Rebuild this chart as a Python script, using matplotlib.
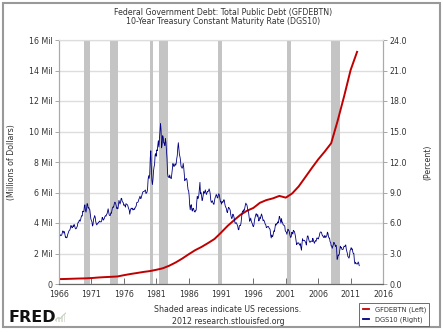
import matplotlib
matplotlib.use("Agg")
import matplotlib.pyplot as plt
import numpy as np
from matplotlib.lines import Line2D
from matplotlib.patches import Rectangle

# Total public debt, millions of dollars (start of 1966, then each year end)
debt_dates = [1966.0] + [y + 1.0 for y in range(1966, 2012)]
debt_millions = [
    320999, 329319, 344663, 358029, 368226, 389158, 424131, 449298, 469898,
    492665, 576649, 653544, 718943, 789207, 845116, 930210, 1028729, 1197073,
    1410702, 1663012, 1945942, 2214834, 2431715, 2684392, 2952994, 3364820,
    3801698, 4177009, 4535687, 4800150, 4988665, 5323172, 5502388, 5614217,
    5776091, 5662216, 5943439, 6405707, 6997964, 7596144, 8170424, 8680224,
    9229172, 10699805, 12311350, 14025215, 15222940,
]

# 10-year treasury rate, percent, monthly from Jan 1966
dgs10_start = 1966
dgs10_pct = [
    4.61, 4.83, 4.87, 4.75, 4.78, 4.81, 5.02, 5.22, 5.18, 5.01, 5.16, 4.84,
    4.58, 4.63, 4.54, 4.59, 4.85, 5.02, 5.16, 5.28, 5.30, 5.48, 5.75, 5.70,
    5.53, 5.56, 5.74, 5.64, 5.87, 5.72, 5.50, 5.42, 5.46, 5.58, 5.70, 6.03,
    6.04, 6.19, 6.30, 6.17, 6.32, 6.57, 6.72, 6.69, 7.16, 7.10, 7.14, 7.65,
    7.79, 7.24, 7.07, 7.39, 7.91, 7.84, 7.46, 7.53, 7.39, 7.33, 6.84, 6.39,
    6.24, 6.11, 5.70, 5.83, 6.39, 6.52, 6.73, 6.58, 6.14, 5.93, 5.81, 5.93,
    5.95, 6.08, 6.07, 6.19, 6.13, 6.11, 6.11, 6.21, 6.55, 6.48, 6.28, 6.36,
    6.46, 6.64, 6.71, 6.67, 6.85, 6.90, 7.13, 7.40, 7.09, 6.79, 6.73, 6.74,
    6.99, 6.96, 7.21, 7.51, 7.58, 7.54, 7.81, 8.04, 8.04, 7.90, 7.68, 7.43,
    7.50, 7.39, 7.73, 8.23, 8.06, 7.86, 8.06, 8.40, 8.43, 8.14, 8.05, 8.00,
    7.74, 7.79, 7.73, 7.56, 7.90, 7.86, 7.83, 7.77, 7.59, 7.41, 7.29, 6.87,
    7.21, 7.39, 7.46, 7.37, 7.46, 7.28, 7.33, 7.40, 7.34, 7.52, 7.58, 7.69,
    8.01, 8.03, 8.04, 8.15, 8.35, 8.46, 8.64, 8.41, 8.42, 8.64, 8.81, 9.01,
    9.10, 9.10, 9.12, 9.18, 9.25, 8.91, 8.95, 9.03, 9.33, 10.30, 10.65, 10.39,
    10.80, 12.41, 13.10, 11.47, 10.18, 9.78, 10.25, 11.10, 11.51, 11.75, 12.68, 12.84,
    12.57, 13.19, 13.12, 13.68, 14.10, 13.47, 14.28, 14.94, 15.80, 15.15, 13.39, 13.72,
    14.59, 14.43, 13.86, 13.87, 13.62, 14.30, 13.95, 13.06, 12.34, 10.91, 10.55, 10.54,
    10.46, 10.72, 10.51, 10.40, 10.38, 10.85, 11.38, 11.85, 11.65, 11.54, 11.69, 11.83,
    11.67, 11.84, 12.32, 12.63, 13.41, 13.90, 13.36, 12.72, 12.52, 12.16, 11.57, 11.50,
    11.38, 11.51, 11.86, 11.43, 10.85, 10.16, 10.31, 10.33, 10.37, 10.24, 9.78, 9.26,
    9.19, 8.70, 7.78, 7.30, 7.71, 7.80, 7.30, 7.17, 7.45, 7.43, 7.25, 7.11,
    7.08, 7.25, 7.25, 8.02, 8.61, 8.40, 8.45, 8.76, 9.42, 10.00, 8.86, 8.99,
    8.67, 8.21, 8.37, 8.72, 9.09, 8.92, 9.06, 9.26, 8.98, 8.80, 8.96, 9.11,
    9.09, 9.17, 9.36, 9.18, 8.86, 8.28, 8.02, 8.11, 8.19, 8.01, 7.87, 7.84,
    8.21, 8.47, 8.59, 8.79, 8.76, 8.48, 8.47, 8.75, 8.89, 8.72, 8.39, 8.08,
    8.09, 7.85, 8.11, 8.04, 8.07, 8.28, 8.27, 7.90, 7.65, 7.53, 7.42, 7.09,
    7.03, 7.34, 7.54, 7.48, 7.39, 7.26, 6.84, 6.59, 6.42, 6.59, 6.87, 6.77,
    6.60, 6.26, 5.98, 5.97, 6.04, 5.96, 5.81, 5.68, 5.36, 5.33, 5.72, 5.77,
    5.75, 5.97, 6.48, 6.97, 7.18, 7.10, 7.30, 7.24, 7.46, 7.74, 7.96, 7.81,
    7.78, 7.47, 7.20, 7.06, 6.63, 6.17, 6.28, 6.49, 6.20, 6.04, 5.93, 5.71,
    5.65, 5.81, 6.27, 6.51, 6.74, 6.91, 6.87, 6.64, 6.83, 6.53, 6.20, 6.30,
    6.58, 6.42, 6.69, 6.89, 6.71, 6.49, 6.22, 6.30, 6.21, 6.03, 5.88, 5.81,
    5.54, 5.57, 5.65, 5.64, 5.65, 5.50, 5.46, 5.34, 4.81, 4.53, 4.83, 4.65,
    4.72, 5.00, 5.23, 5.18, 5.54, 5.90, 5.79, 5.94, 5.92, 6.11, 6.03, 6.28,
    6.66, 6.52, 6.26, 5.99, 6.44, 6.10, 6.05, 5.83, 5.80, 5.74, 5.72, 5.24,
    5.16, 5.10, 4.89, 5.14, 5.39, 5.28, 5.24, 4.97, 4.73, 4.57, 4.65, 5.09,
    5.04, 4.91, 5.28, 5.21, 5.16, 4.93, 4.65, 4.26, 3.87, 3.94, 4.05, 4.03,
    4.05, 3.90, 3.81, 3.96, 3.57, 3.33, 3.98, 4.45, 4.27, 4.29, 4.30, 4.27,
    4.15, 4.08, 3.83, 4.35, 4.72, 4.73, 4.50, 4.28, 4.13, 4.10, 4.19, 4.23,
    4.22, 4.17, 4.50, 4.34, 4.14, 4.00, 4.18, 4.26, 4.20, 4.46, 4.54, 4.47,
    4.42, 4.57, 4.72, 4.99, 5.11, 5.11, 5.09, 4.88, 4.72, 4.73, 4.60, 4.56,
    4.76, 4.72, 4.56, 4.69, 4.75, 5.10, 5.00, 4.67, 4.52, 4.53, 4.15, 4.10,
    3.74, 3.74, 3.51, 3.68, 3.88, 4.10, 4.01, 3.89, 3.69, 3.81, 3.53, 2.42,
    2.52, 2.87, 2.82, 2.93, 3.29, 3.72, 3.56, 3.59, 3.40, 3.39, 3.40, 3.59,
    3.73, 3.69, 3.73, 3.85, 3.42, 3.20, 3.01, 2.70, 2.65, 2.54, 2.76, 3.29,
    3.39, 3.58, 3.41, 3.46, 3.17, 3.00, 3.00, 2.30, 1.98, 2.15, 2.01, 1.98,
    1.97, 1.97, 2.17, 2.05, 1.80,
]

recessions = [
    (1969.92, 1970.83), (1973.83, 1975.17), (1980.0, 1980.5), (1981.5, 1982.83),
    (1990.5, 1991.17), (2001.17, 2001.83), (2007.92, 2009.42),
]

x_ticks = list(range(1966, 2017, 5))
left_ticks = [0, 2e6, 4e6, 6e6, 8e6, 10e6, 12e6, 14e6, 16e6]
left_labels = ["0"] + [f"{int(v / 1e6)} Mil" for v in left_ticks[1:]]
right_ticks = [0, 3, 6, 9, 12, 15, 18, 21, 24]
right_labels = [f"{v:.1f}" for v in right_ticks]

red = "#c00000"
navy = "#000080"
txt = "#333333"
fs = 5.7

plt.rcParams["font.family"] = ["DejaVu Sans"]

W, H = 443, 332
fig = plt.figure(figsize=(W / 100, H / 100), dpi=100)
ax = fig.add_axes([59 / W, 1 - 284 / H, 324 / W, 244 / H])

for start, end in recessions:
    ax.axvspan(start, end, color="#c4c4c4", lw=0, zorder=1)

ax.plot(debt_dates, debt_millions, color=red, lw=1.4, zorder=3)
ax.set_xlim(1966, 2016)
ax.set_ylim(0, 16e6)
ax.set_xticks(x_ticks)
ax.set_xticklabels([str(t) for t in x_ticks])
ax.set_yticks(left_ticks)
ax.set_yticklabels(left_labels)
ax.grid(axis="y", color="#dddddd", lw=1)
ax.set_axisbelow(True)
ax.tick_params(axis="x", direction="in", length=4, width=0.6, color="#555555",
               labelsize=fs, labelcolor=txt, pad=4)
ax.tick_params(axis="y", direction="out", length=3, width=0.6, color="#999999",
               labelsize=fs, labelcolor=txt, pad=1.5)
ax.set_ylabel("(Millions of Dollars)", fontsize=fs, color=txt, labelpad=9)

ax2 = ax.twinx()
months = dgs10_start + np.arange(len(dgs10_pct)) / 12.0
ax2.plot(months, dgs10_pct, color=navy, lw=0.6, zorder=2)
ax2.set_ylim(0, 24)
ax2.set_yticks(right_ticks)
ax2.set_yticklabels(right_labels)
ax2.tick_params(axis="y", direction="out", length=3, width=0.6, color="#999999",
                labelsize=fs, labelcolor=txt, pad=1.5)
ax2.set_ylabel("(Percent)", fontsize=fs, color=txt, labelpad=12)

for a in (ax, ax2):
    a.spines["top"].set_color("#dddddd")
    a.spines["left"].set_color("#aaaaaa")
    a.spines["right"].set_color("#aaaaaa")
    a.spines["bottom"].set_color("#666666")
    for s in a.spines.values():
        s.set_linewidth(0.8)

fig.text(223 / W, 1 - 12 / H, "Federal Government Debt: Total Public Debt (GFDEBTN)",
         ha="center", va="center", fontsize=fs, color=txt)
fig.text(223 / W, 1 - 22 / H, "10-Year Treasury Constant Maturity Rate (DGS10)",
         ha="center", va="center", fontsize=fs, color=txt)
fig.text(228 / W, 1 - 309 / H, "Shaded areas indicate US recessions.",
         ha="center", va="center", fontsize=fs, color=txt)
fig.text(228 / W, 1 - 321 / H, "2012 research.stlouisfed.org",
         ha="center", va="center", fontsize=fs, color=txt)

# FRED logo text plus a small chart glyph
fig.text(9 / W, 1 - 317 / H, "FRED", ha="left", va="center", fontsize=11.5,
         fontweight="heavy", color="#111111")
icon = fig.add_axes([55 / W, 1 - 322 / H, 11 / W, 10 / H])
icon.plot([0, 1, 2, 3, 4], [0.5, 1.5, 1.2, 2.4, 3.2], color="#c8d0c0", lw=0.8)
icon.bar([0.5, 1.5, 2.5, 3.5], [1, 1.6, 2.1, 2.8], width=0.5, color="#dde3d8")
icon.set_xlim(0, 4)
icon.set_ylim(0, 3.5)
icon.axis("off")

handles = [Line2D([], [], color=red, lw=1.3), Line2D([], [], color=navy, lw=1.3)]
leg = fig.legend(handles, ["GFDEBTN (Left)", "DGS10 (Right)"], loc="upper left",
                 bbox_to_anchor=(356 / W, 1 - 300 / H), fontsize=4.8,
                 handlelength=1.0, handletextpad=0.8, borderpad=0.5,
                 labelspacing=0.5, fancybox=False, framealpha=1)
leg.get_frame().set_edgecolor("#555555")
leg.get_frame().set_linewidth(0.6)
for t in leg.get_texts():
    t.set_color(txt)

fig.patches.append(Rectangle((3 / W, 1 - 327 / H), 437 / W, 324 / H,
                             transform=fig.transFigure, fill=False,
                             edgecolor="#999999", lw=1.5))

fig.savefig("out.png", dpi=100)
